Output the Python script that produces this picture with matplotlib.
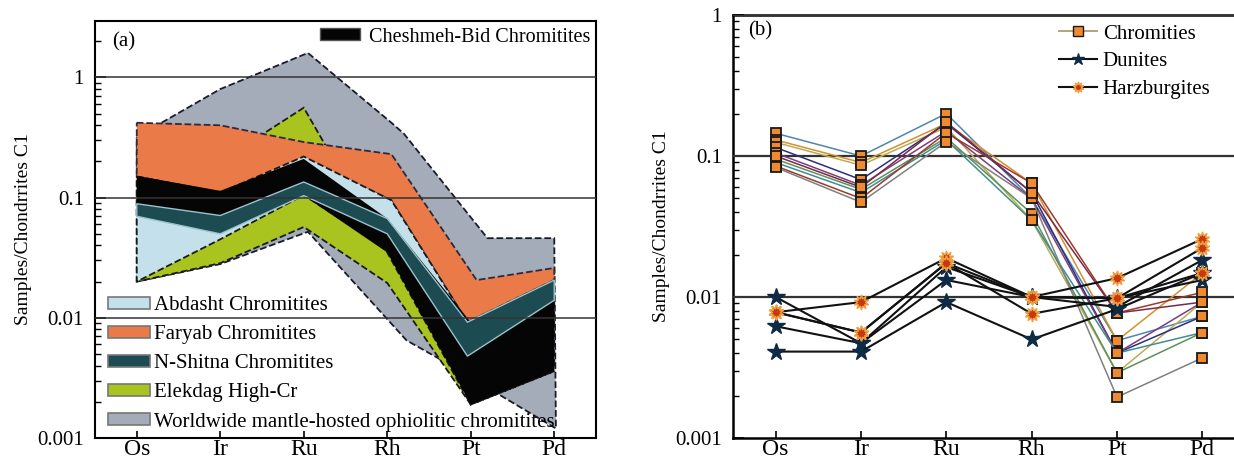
import matplotlib.pyplot as plt
from matplotlib.patches import Patch
from matplotlib.lines import Line2D
from matplotlib.ticker import LogLocator, NullFormatter, FixedLocator, FixedFormatter

plt.rcParams['font.family'] = ['Liberation Serif', 'DejaVu Serif']

elements = ['Os', 'Ir', 'Ru', 'Rh', 'Pt', 'Pd']
pos = [1, 2, 3, 4, 5, 6]

# ---- panel (a): fields (upper / lower boundaries) ----
world_x_up = [1, 2, 3.05, 4.05, 4.2, 5.2, 6]
world_y_up = [0.32, 0.8, 1.6, 0.42, 0.34, 0.046, 0.046]
world_x_lo = [1, 2, 3.05, 4.23, 4.59, 6.02]
world_y_lo = [0.02, 0.028, 0.052, 0.0065, 0.0047, 0.0012]

elek_x = [1, 2, 3, 4, 5, 6]
elek_up = [0.02, 0.2, 0.56, 0.035, 0.0019, 0.0036]
elek_lo = [0.02, 0.0285, 0.057, 0.0195, 0.0019, 0.0036]

far_x_up = [1, 2, 3, 4.05, 5.07, 6]
far_y_up = [0.42, 0.40, 0.29, 0.23, 0.0206, 0.026]
far_x_lo = [1, 2, 3, 4.05, 4.96, 6]
far_y_lo = [0.15, 0.11, 0.21, 0.095, 0.0092, 0.0206]

abd_x = [1, 2, 3, 4.05, 4.96, 6]
abd_up = [0.15, 0.11, 0.22, 0.095, 0.0092, 0.0206]
abd_lo = [0.02, 0.045, 0.105, 0.035, 0.0025, 0.004]

chesh_x = [1, 2, 3, 4, 5, 6]
chesh_up = [0.152, 0.114, 0.21, 0.067, 0.0092, 0.014]
chesh_lo = [0.089, 0.05, 0.104, 0.035, 0.0019, 0.0036]

shit_x = [1, 2, 3, 4, 4.96, 6]
shit_up = [0.089, 0.071, 0.135, 0.067, 0.0092, 0.0206]
shit_lo = [0.07, 0.05, 0.104, 0.05, 0.0048, 0.014]

# ---- panel (b): samples ----
chrom = [
    [0.145, 0.100, 0.200, 0.050, 0.0049, 0.0073],
    [0.130, 0.090, 0.170, 0.064, 0.0049, 0.0148],
    [0.125, 0.086, 0.160, 0.035, 0.0029, 0.0092],
    [0.115, 0.068, 0.170, 0.055, 0.0040, 0.0073],
    [0.105, 0.062, 0.150, 0.050, 0.0040, 0.0092],
    [0.095, 0.058, 0.135, 0.039, 0.0029, 0.0056],
    [0.090, 0.055, 0.130, 0.035, 0.0040, 0.0056],
    [0.085, 0.050, 0.146, 0.064, 0.0077, 0.0108],
    [0.083, 0.047, 0.126, 0.050, 0.00195, 0.0037],
    [0.100, 0.060, 0.174, 0.055, 0.0077, 0.0092],
]
chrom_colors = ['#4f86b0', '#d4902e', '#b9ad55', '#2c2f7a', '#7b3f7b',
                '#5f8f5a', '#3f8f8f', '#9a3b2e', '#808080', '#7a2a4a']

dunite = [
    [0.0100, 0.0047, 0.0163, 0.0100, 0.0085, 0.0183],
    [0.0062, 0.0047, 0.0132, 0.0100, 0.0098, 0.0132],
    [0.0041, 0.0041, 0.0092, 0.0050, 0.0082, 0.0148],
]
harz = [
    [0.0078, 0.0092, 0.0189, 0.0100, 0.0136, 0.0258],
    [0.0078, 0.0056, 0.0174, 0.0076, 0.0098, 0.0223],
    [0.0078, 0.0056, 0.0174, 0.0100, 0.0098, 0.0148],
]

W, H = 1234, 461
fig = plt.figure(figsize=(W / 100, H / 100), dpi=100)


def style_axis(ax, ymin, ymax, grid_lw, spine_lw):
    ax.set_yscale('log')
    ax.set_ylim(ymin, ymax)
    ax.set_xlim(0.5, 6.5)
    ax.xaxis.set_major_locator(FixedLocator(pos))
    ax.xaxis.set_major_formatter(FixedFormatter(elements))
    ax.yaxis.set_major_locator(FixedLocator([0.001, 0.01, 0.1, 1]))
    ax.yaxis.set_major_formatter(FixedFormatter(['0.001', '0.01', '0.1', '1']))
    ax.yaxis.set_minor_locator(LogLocator(base=10, subs=range(2, 10)))
    ax.yaxis.set_minor_formatter(NullFormatter())
    ax.tick_params(axis='y', which='major', direction='in', length=8, width=1.2,
                   labelsize=15, pad=8)
    ax.tick_params(axis='y', which='minor', direction='in', length=4.5, width=1.0)
    ax.tick_params(axis='x', direction='in', length=5, width=1.2, labelsize=17, pad=1)
    for s in ax.spines.values():
        s.set_linewidth(spine_lw)
    for v in [0.01, 0.1, 1]:
        ax.axhline(v, color='#333333', lw=grid_lw, zorder=5)
    ax.set_ylabel('Samples/Chondrrites C1', fontsize=14, labelpad=4)


def band(ax, xu, yu, xl, yl, fc, ec, ls, lw, z):
    xs = list(xu) + list(xl)[::-1]
    ys = list(yu) + list(yl)[::-1]
    ax.fill(xs, ys, facecolor=fc, edgecolor=ec, linestyle=ls, linewidth=lw, zorder=z)


# ---------------- (a) ----------------
ax1 = fig.add_axes([95 / W, (H - 438) / H, (596 - 95) / W, (438 - 21) / H])
style_axis(ax1, 0.001, 2.95, 1.1, 1.5)

c_world = '#a3acb8'
c_elek = '#a9c41e'
c_far = '#ea7b48'
c_abd = '#c4e0ea'
c_chesh = '#050505'
c_shit = '#1d4b52'

band(ax1, world_x_up, world_y_up, world_x_lo, world_y_lo, c_world, '#1a1a2a', '--', 1.3, 1)
band(ax1, elek_x, elek_up, elek_x, elek_lo, c_elek, '#1a1a1a', '--', 1.3, 2)
band(ax1, far_x_up, far_y_up, far_x_lo, far_y_lo, c_far, '#2a2a40', '--', 1.3, 3)
band(ax1, abd_x, abd_up, abd_x, abd_lo, c_abd, '#1a1a1a', '--', 1.3, 4)
band(ax1, chesh_x, chesh_up, chesh_x, chesh_lo, c_chesh, 'none', '-', 0, 4.2)
band(ax1, shit_x, shit_up, shit_x, shit_lo, c_shit, '#9cc2cc', '-', 1.0, 4.4)

fig.text(112 / W, 1 - 42 / H, '(a)', fontsize=15, va='center', ha='left')

leg_top = ax1.legend([Patch(facecolor=c_chesh, edgecolor='#555555')],
                     ['Cheshmeh-Bid Chromitites'],
                     loc='center left', bbox_to_anchor=(320 / W, 1 - 37 / H),
                     bbox_transform=fig.transFigure, frameon=False, fontsize=14.5,
                     borderpad=0, borderaxespad=0, handlelength=2.0,
                     handleheight=0.55, handletextpad=0.45)
leg_top.set_zorder(10)
ax1.add_artist(leg_top)

low_handles = [Patch(facecolor=c, edgecolor='#777777', linewidth=1.2)
               for c in [c_abd, c_far, c_shit, c_elek, c_world]]
low_labels = ['Abdasht Chromitites', 'Faryab Chromitites', 'N-Shitna Chromitites',
              'Elekdag High-Cr', 'Worldwide mantle-hosted ophiolitic chromitites']
leg_low = ax1.legend(low_handles, low_labels, loc='center left',
                     bbox_to_anchor=(108 / W, 1 - 364 / H),
                     bbox_transform=fig.transFigure, frameon=False, fontsize=15,
                     borderpad=0, borderaxespad=0, handlelength=2.0,
                     handleheight=0.55, handletextpad=0.2, labelspacing=0.48)
leg_low.set_zorder(10)

# ---------------- (b) ----------------
ax2 = fig.add_axes([733 / W, (H - 438) / H, (1245 - 733) / W, (438 - 15) / H])
style_axis(ax2, 0.001, 1, 1.6, 1.8)

for vals, col in zip(chrom, chrom_colors):
    ax2.plot(pos, vals, color=col, lw=1.1, zorder=6, marker='s', markersize=7.5,
             markerfacecolor='#f08a30', markeredgecolor='#1a1a1a', markeredgewidth=1.3)

for vals in dunite:
    ax2.plot(pos, vals, color='#111111', lw=1.5, zorder=7, marker='*', markersize=13,
             markerfacecolor='#0e2a44', markeredgecolor='#0e2a44')
for vals in harz:
    ax2.plot(pos, vals, color='#111111', lw=1.5, zorder=7, marker=(10, 1, 0),
             markersize=11, markerfacecolor='#c8380e', markeredgecolor='#f0a040',
             markeredgewidth=1.0)

fig.text(748 / W, 1 - 31 / H, '(b)', fontsize=15, va='center', ha='left')

h_b = [
    Line2D([], [], color='#a8a070', lw=1.3, marker='s', markersize=7,
           markerfacecolor='#f08a30', markeredgecolor='#1a1a1a'),
    Line2D([], [], color='#111111', lw=1.5, marker='*', markersize=9,
           markerfacecolor='#0e2a44', markeredgecolor='#0e2a44'),
    Line2D([], [], color='#111111', lw=1.5, marker=(10, 1, 0), markersize=8,
           markerfacecolor='#c8380e', markeredgecolor='#f0a040'),
]
leg_b = ax2.legend(h_b, ['Chromities', 'Dunites', 'Harzburgites'],
                   loc='upper left', bbox_to_anchor=(1059 / W, 1 - 24 / H),
                   bbox_transform=fig.transFigure, frameon=False, fontsize=15,
                   borderpad=0, borderaxespad=0, handlelength=1.8,
                   handletextpad=0.3, labelspacing=0.4)
leg_b.set_zorder(10)

fig.savefig('out.png', dpi=100)
